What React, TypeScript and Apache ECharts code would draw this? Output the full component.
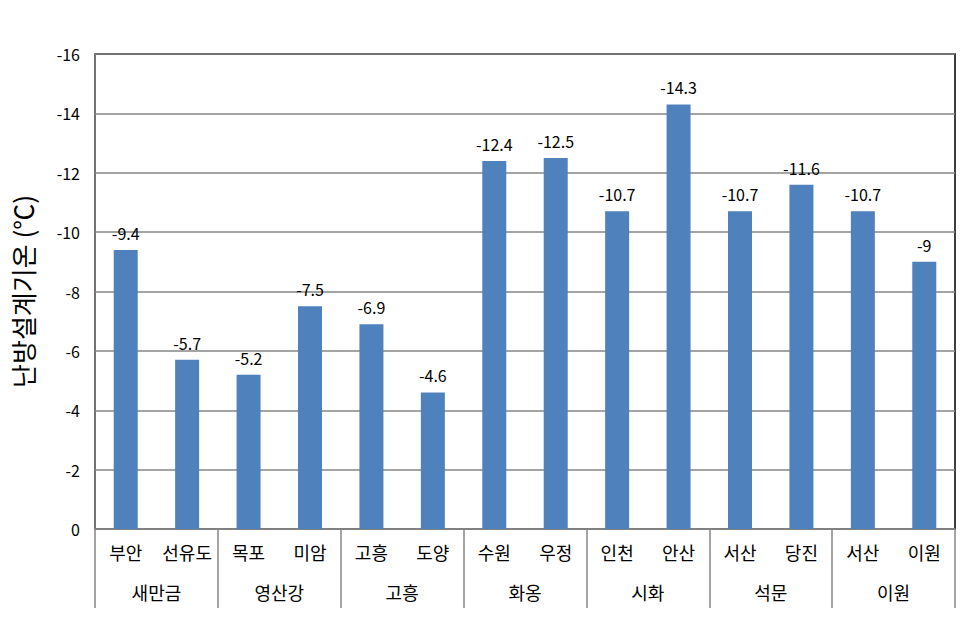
import React, { useEffect, useRef } from "react";
import * as echarts from "echarts";

const stations = ["부안", "선유도", "목포", "미암", "고흥", "도양", "수원", "우정", "인천", "안산", "서산", "당진", "서산", "이원"];
const groups = ["새만금", "영산강", "고흥", "화옹", "시화", "석문", "이원"];
const temps = [-9.4, -5.7, -5.2, -7.5, -6.9, -4.6, -12.4, -12.5, -10.7, -14.3, -10.7, -11.6, -10.7, -9];
const yAxisTitle = "난방설계기온 (℃)";

const FONT = "'Noto Sans CJK KR', 'Noto Sans', sans-serif";

export default function App() {
  const ref = useRef<HTMLDivElement>(null);
  useEffect(() => {
    document.body.style.margin = "0";
    const chart = echarts.init(ref.current!, null, { renderer: "svg" });
    chart.setOption({
      animation: false,
      backgroundColor: "#ffffff",
      textStyle: { fontFamily: FONT },
      grid: {
        left: 95,
        right: 22,
        top: 54,
        bottom: 110,
        show: true,
        borderColor: "#000000",
        borderWidth: 1.5,
        backgroundColor: "transparent",
      },
      xAxis: [
        {
          type: "category",
          data: stations,
          position: "bottom",
          axisLine: { show: true, lineStyle: { color: "#868686", width: 1.5 } },
          axisTick: { show: false },
          axisLabel: { color: "#000", fontSize: 18, margin: 14, interval: 0, fontFamily: FONT },
        },
        {
          type: "category",
          data: groups,
          position: "bottom",
          axisLine: { show: false },
          axisTick: { show: true, length: 79, interval: 0, lineStyle: { color: "#868686", width: 1.5 } },
          axisLabel: { color: "#000", fontSize: 18, margin: 54, interval: 0, fontFamily: FONT },
          splitLine: { show: false },
        },
      ],
      yAxis: {
        type: "value",
        inverse: true,
        min: -16,
        max: 0,
        interval: 2,
        name: yAxisTitle,
        nameLocation: "middle",
        nameGap: 60,
        nameTextStyle: { color: "#000", fontSize: 26, fontFamily: FONT },
        axisLine: { show: true, lineStyle: { color: "#868686", width: 1.5 } },
        axisTick: { show: false },
        axisLabel: { color: "#000", fontSize: 16, margin: 15, fontFamily: FONT },
        splitLine: { show: true, lineStyle: { color: "#868686", width: 1.5 } },
      },
      series: [
        {
          type: "bar",
          xAxisIndex: 0,
          data: temps,
          barWidth: 24,
          itemStyle: { color: "#4F81BD" },
          label: {
            show: true,
            position: "top",
            distance: 9,
            color: "#000",
            fontSize: 16,
            fontFamily: FONT,
            formatter: (p: any) => String(p.value),
          },
        },
      ],
    });
    return () => chart.dispose();
  }, []);
  return <div ref={ref} style={{ width: 977, height: 639 }} />;
}
